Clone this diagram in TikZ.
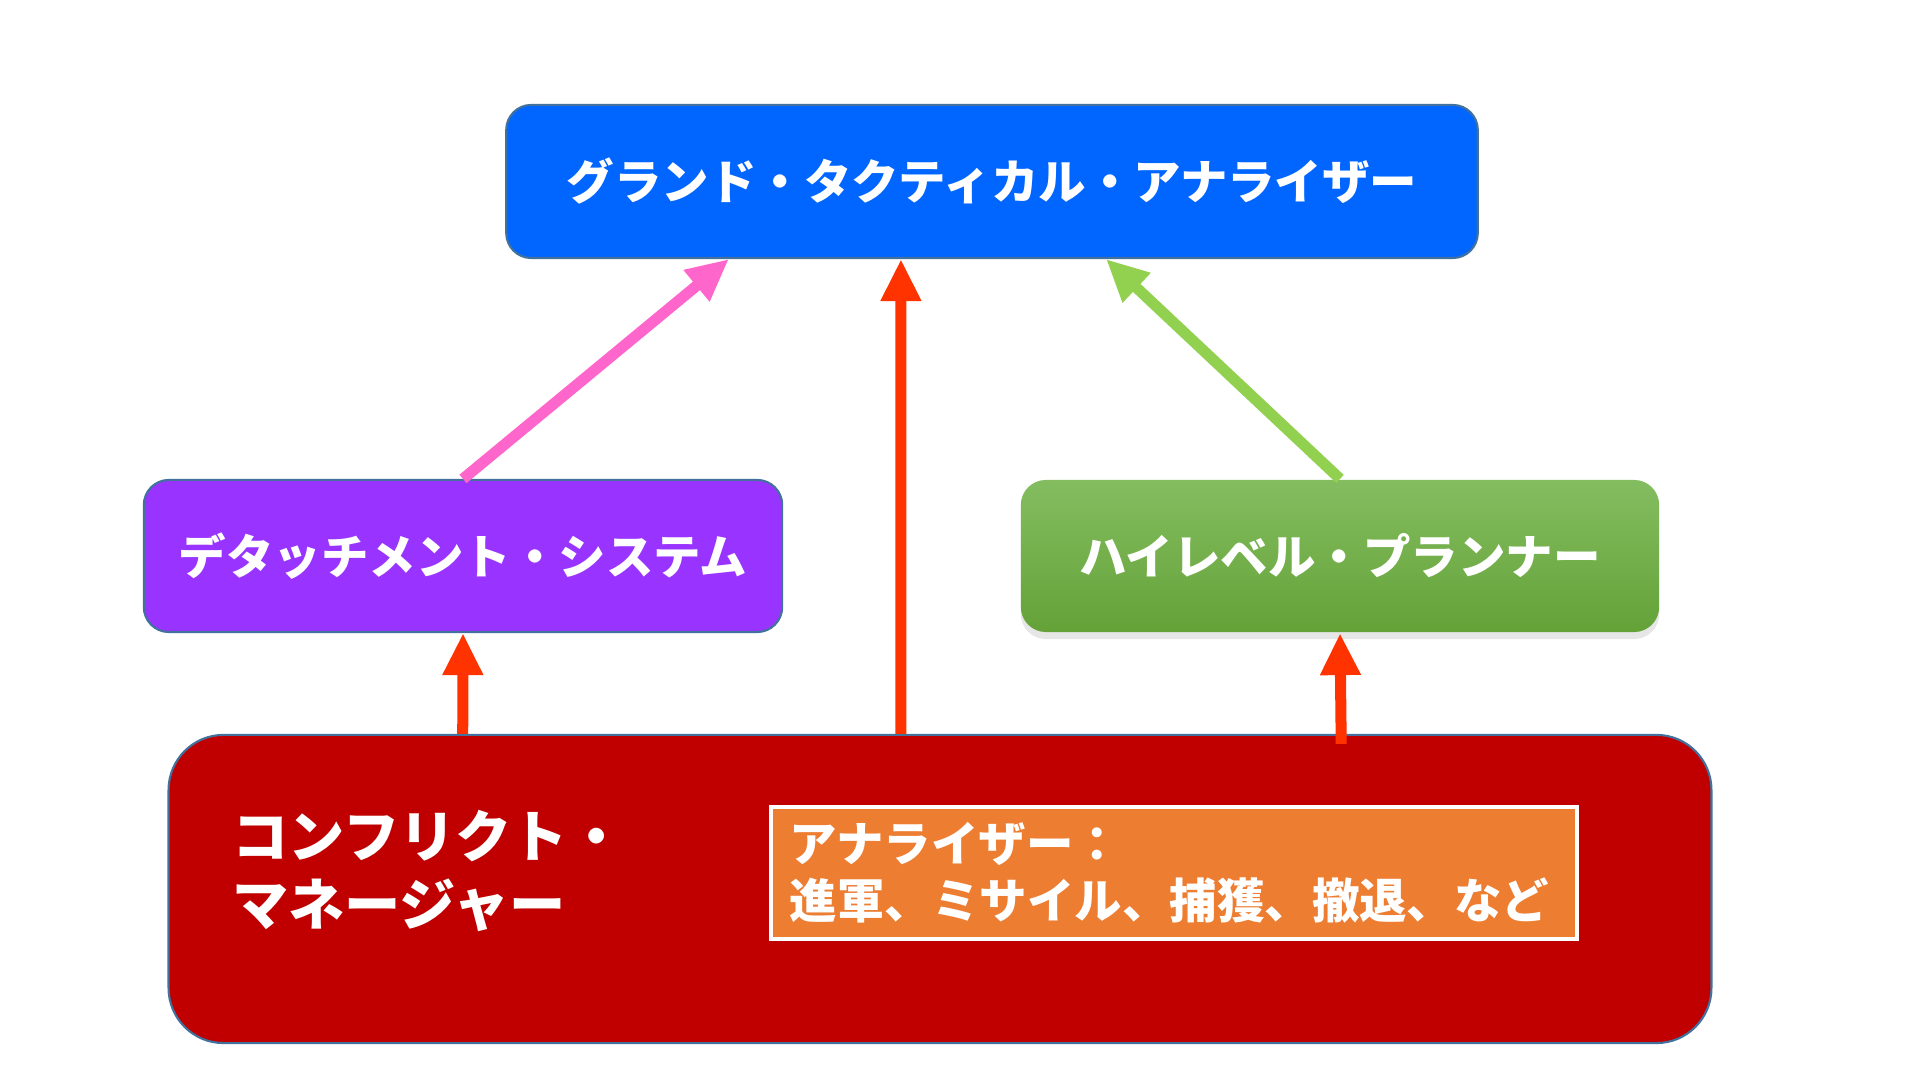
\documentclass[tikz,border=0pt]{standalone}
\usepackage{fontspec}
\newfontfamily\jpfont{Noto Sans CJK JP}
\usepackage{xcolor}
\usetikzlibrary{arrows.meta,shadows}
\definecolor{grandblue}{HTML}{0066FF}
\definecolor{detachpurple}{HTML}{9933FF}
\definecolor{plantop}{HTML}{84BD60}
\definecolor{planbottom}{HTML}{64A238}
\definecolor{conflictred}{HTML}{C00000}
\definecolor{anaorange}{HTML}{ED7D31}
\definecolor{edgeblue}{HTML}{41719C}
\definecolor{arrowred}{HTML}{FF3300}
\definecolor{arrowpink}{HTML}{FF66CC}
\definecolor{arrowlime}{HTML}{92D050}

\begin{document}
\begin{tikzpicture}[x=0.01cm,y=-0.01cm,
  font=\jpfont\bfseries\fontsize{13.5}{16.2}\selectfont,
  box/.style={rounded corners=0.25cm,draw=edgeblue,line width=0.6pt,
    text=white,inner sep=0pt},
  link/.style={line width=0.11cm,-{Triangle[length=0.42cm,width=0.38cm]}}]
  \useasboundingbox (0,0) rectangle (1920,1080);
  % boxes
  \node[box,fill=grandblue,minimum width=9.71cm,minimum height=1.53cm]
    (grand) at (992,181.5) {グランド・タクティカル・アナライザー};
  \node[box,fill=detachpurple,minimum width=6.38cm,minimum height=1.52cm]
    (detach) at (463,556) {デタッチメント・システム};
  \node[box,top color=plantop,bottom color=planbottom,draw=none,
    drop shadow={shadow xshift=0pt,shadow yshift=-2pt,opacity=0.2},
    minimum width=6.38cm,minimum height=1.52cm]
    (planner) at (1340,556) {ハイレベル・プランナー};
  \node[box,fill=conflictred,rounded corners=0.55cm,
    minimum width=15.42cm,minimum height=3.08cm] (conflict) at (940,889) {};
  \node[anchor=west,align=left,text=white,inner sep=0pt,
    font=\jpfont\bfseries\fontsize{16}{19.3}\selectfont]
    (conflicttext) at ([xshift=0.64cm,yshift=0.18cm]conflict.west)
    {コンフリクト・\\マネージャー};
  \node[draw=white,line width=1.2pt,fill=anaorange,text=white,align=left,
    text width=7.68cm,inner xsep=0.19cm,inner ysep=0pt,minimum height=1.32cm]
    (analyzers) at (1174,873) {アナライザー：\\進軍、ミサイル、捕獲、撤退、など};
  % arrows
  \draw[link,arrowpink] (detach.north) -- ([xshift=-2.63cm]grand.south);
  \draw[link,arrowlime] (planner.north) -- ([xshift=1.14cm]grand.south);
  \draw[link,arrowred] ([xshift=-0.39cm]conflict.north) -- ([xshift=-0.91cm]grand.south);
  \draw[link,arrowred] ([xshift=-4.77cm]conflict.north) -- (detach.south);
  \draw[link,arrowred] ([xshift=4.01cm,yshift=-0.1cm]conflict.north) -- (planner.south);
\end{tikzpicture}
\end{document}
